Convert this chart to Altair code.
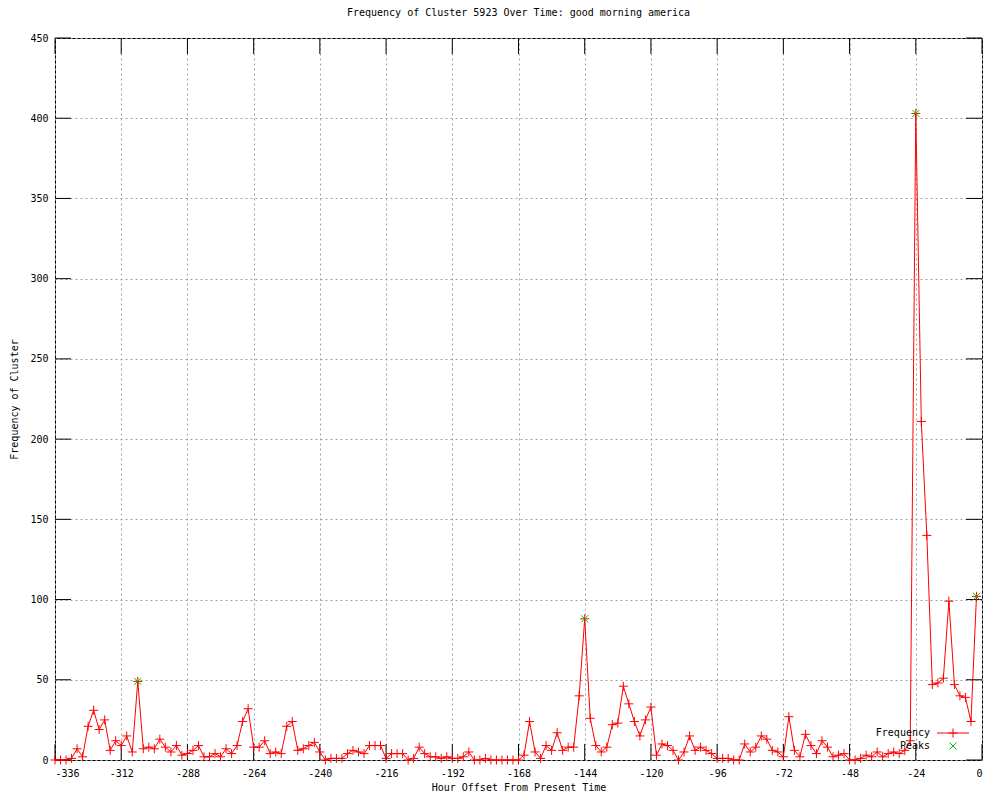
import altair as alt
import pandas as pd

# ---- data ----
hours = list(range(-336, 0, 2))
frequency = [
    0, 0, 0, 1, 7, 2, 21, 31, 19, 25, 6, 12, 9, 15, 5, 49, 7, 8, 7, 13,
    8, 5, 9, 3, 4, 6, 9, 2, 2, 4, 2, 7, 4, 9, 24, 32, 8, 8, 12, 4,
    5, 4, 21, 24, 6, 7, 9, 11, 5, 0, 1, 1, 1, 4, 6, 5, 4, 9, 9, 9,
    1, 4, 4, 4, 0, 1, 8, 4, 2, 2, 1, 2, 1, 1, 2, 5, 0, 0, 1, 0,
    0, 0, 0, 0, 0, 3, 24, 5, 1, 9, 6, 17, 6, 8, 8, 40, 88, 26, 9, 5,
    8, 22, 23, 46, 35, 24, 15, 25, 33, 3, 10, 9, 6, 0, 5, 15, 6, 8, 6, 4,
    1, 1, 1, 0, 0, 10, 5, 8, 15, 13, 6, 5, 2, 27, 6, 2, 16, 9, 4, 12,
    8, 2, 3, 4, 0, 0, 1, 3, 2, 5, 2, 4, 5, 4, 6, 12, 403, 211, 140, 47,
    48, 51, 99, 47, 40, 39, 24, 102,
]
assert len(hours) == len(frequency)

peak_hours = [-306, -144, -24, -2]
peak_values = [49, 88, 403, 102]

x_ticks = list(range(-336, 1, 24))
y_ticks = list(range(0, 451, 50))

title_text = "Frequency of Cluster 5923 Over Time: good morning america"
x_title = "Hour Offset From Present Time"
y_title = "Frequency of Cluster"
legend_labels = ["Frequency", "Peaks"]

# ---- styling ----
W, H = 927, 722
FONT = "DejaVu Sans Mono"
RED = "#ff0000"
GREEN = "#00c000"
PLUS = "M-1,0L1,0M0,-1L0,1"
CROSS = "M-1,-1L1,1M-1,1L1,-1"
TICK = 16

df = pd.DataFrame({"hour": hours, "freq": frequency})
pk = pd.DataFrame({"hour": peak_hours, "freq": peak_values})
xt = pd.DataFrame({"hour": x_ticks})
yt = pd.DataFrame({"freq": y_ticks})

xscale = alt.Scale(domain=[-336, 0], nice=False, zero=False)
yscale = alt.Scale(domain=[0, 450], nice=False, zero=True)

x_axis = alt.Axis(
    values=x_ticks, grid=True, gridColor="#a0a0a0", gridDash=[2, 3], gridWidth=1,
    ticks=False, domain=False, labelFont=FONT, labelFontSize=10, labelPadding=8,
    labelColor="black", labelExpr="'' + datum.value",
    title=x_title, titleFont=FONT, titleFontSize=10, titleFontWeight="normal",
    titleColor="black", titlePadding=4,
)
y_axis = alt.Axis(
    values=y_ticks, grid=True, gridColor="#a0a0a0", gridDash=[2, 3], gridWidth=1,
    ticks=False, domain=False, labelFont=FONT, labelFontSize=10, labelPadding=7,
    labelColor="black", labelExpr="'' + datum.value",
    title=y_title, titleFont=FONT, titleFontSize=10, titleFontWeight="normal",
    titleColor="black", titlePadding=10,
)


def X():
    return alt.X("hour:Q", scale=xscale, axis=x_axis)


def Y():
    return alt.Y("freq:Q", scale=yscale, axis=y_axis)


line = alt.Chart(df).mark_line(color=RED, strokeWidth=1).encode(x=X(), y=Y())
pts = alt.Chart(df).mark_point(shape=PLUS, size=81, stroke=RED, strokeWidth=1,
                               filled=False, opacity=1).encode(x=X(), y=Y())
peaks = alt.Chart(pk).mark_point(shape=CROSS, size=49, stroke=GREEN, strokeWidth=1,
                                 filled=False, opacity=1).encode(x=X(), y=Y())

tick_left = alt.Chart(yt).mark_rule(color="black", strokeWidth=1).encode(
    y=Y(), x=alt.value(0), x2=alt.value(TICK))
tick_right = alt.Chart(yt).mark_rule(color="black", strokeWidth=1).encode(
    y=Y(), x=alt.value(W - TICK), x2=alt.value(W))
tick_bottom = alt.Chart(xt).mark_rule(color="black", strokeWidth=1).encode(
    x=X(), y=alt.value(H - TICK), y2=alt.value(H))
tick_top = alt.Chart(xt).mark_rule(color="black", strokeWidth=1).encode(
    x=X(), y=alt.value(0), y2=alt.value(TICK))

# ---- legend (bottom right, inside plot) ----
LX_TEXT, LX1, LX2, LXM = 875, 882, 914, 898
LY1, LY2 = 695, 708
one = df.head(1)
leg_txt1 = alt.Chart(one).mark_text(align="right", baseline="middle", font=FONT,
                                    fontSize=10, color="black").encode(
    x=alt.value(LX_TEXT), y=alt.value(LY1), text=alt.value(legend_labels[0]))
leg_txt2 = alt.Chart(one).mark_text(align="right", baseline="middle", font=FONT,
                                    fontSize=10, color="black").encode(
    x=alt.value(LX_TEXT), y=alt.value(LY2), text=alt.value(legend_labels[1]))
leg_line = alt.Chart(one).mark_rule(color=RED, strokeWidth=1).encode(
    x=alt.value(LX1), x2=alt.value(LX2), y=alt.value(LY1))
leg_plus = alt.Chart(one).mark_point(shape=PLUS, size=81, stroke=RED, strokeWidth=1,
                                     filled=False, opacity=1).encode(
    x=alt.value(LXM), y=alt.value(LY1))
leg_cross = alt.Chart(one).mark_point(shape=CROSS, size=49, stroke=GREEN, strokeWidth=1,
                                      filled=False, opacity=1).encode(
    x=alt.value(LXM), y=alt.value(LY2))

chart = alt.layer(
    line, tick_left, tick_right, tick_bottom, tick_top, pts, peaks,
    leg_txt1, leg_txt2, leg_line, leg_plus, leg_cross,
).properties(
    width=W, height=H,
    title=alt.Title(title_text, font=FONT, fontSize=10, fontWeight="normal",
                    color="black", anchor="middle", frame="group", offset=15),
    autosize=alt.AutoSizeParams(type="none"),
    padding={"left": 47, "top": 30, "right": 10, "bottom": 32},
    background="white",
).configure_view(stroke="black", strokeWidth=1)

chart.save("out.html", embed_options={"renderer": "svg", "actions": False})
